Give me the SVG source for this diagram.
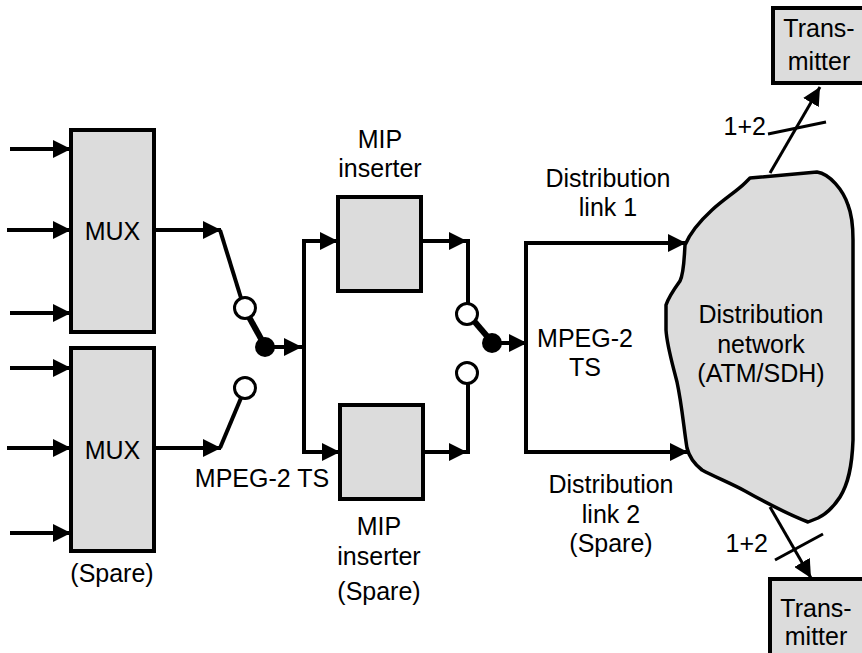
<svg xmlns="http://www.w3.org/2000/svg" width="862" height="653" viewBox="0 0 862 653">
<style>
text{font-family:"Liberation Sans",Arial,sans-serif;font-size:25px;fill:#000;text-anchor:middle}
.box{fill:#dcdcdc;stroke:#000;stroke-width:4}
.ln{fill:none;stroke:#000;stroke-width:4}
.thin{fill:none;stroke:#000;stroke-width:3}
.lever{fill:none;stroke:#000;stroke-width:6}
.open{fill:#fff;stroke:#000;stroke-width:3}
</style>
<defs>
<marker id="ah" markerUnits="userSpaceOnUse" markerWidth="19" markerHeight="18" refX="18" refY="9" orient="auto">
<path d="M0,0 L18,9 L0,18 Z" fill="#000"/>
</marker>
</defs>
<rect width="862" height="653" fill="#fff"/>

<g id="mux1">
<rect class="box" x="71" y="130" width="83" height="202"/>
<text x="112.5" y="240">MUX</text>
</g>
<g id="mux2">
<rect class="box" x="71" y="348" width="83" height="203"/>
<text x="112.5" y="459">MUX</text>
<text x="112" y="582">(Spare)</text>
</g>
<g id="mip1">
<rect class="box" x="338" y="197" width="83" height="94"/>
<text x="380" y="148">MIP</text>
<text x="380" y="177">inserter</text>
</g>
<g id="mip2">
<rect class="box" x="340" y="405" width="83" height="94"/>
<text x="379" y="535">MIP</text>
<text x="379" y="565">inserter</text>
<text x="379" y="600">(Spare)</text>
</g>
<g id="network">
<path d="M750,178 L817,172 C830,174 843,190 848,205 C852,215 853,225 853,240 L853,440 C852,468 848,484 840,497 C833,508 826,514 818,518 L808,522 C790,515 770,505 745,491 C730,483 715,477 702,470 C693,463 689,456 687,448 C684,430 682,405 677,382 C672,362 667,346 666,330 L666,305 C669,296 675,288 680,281 C684,273 684,260 685,245 C690,233 700,221 712,210 C724,199 737,191 745,183 Z" fill="#dcdcdc" stroke="#000" stroke-width="3.5" stroke-linejoin="round"/>
<text x="761" y="323">Distribution</text>
<text x="761" y="353">network</text>
<text x="761" y="382">(ATM/SDH)</text>
</g>
<g id="tx1">
<rect class="box" x="773" y="8" width="95" height="75"/>
<text x="819" y="37">Trans-</text>
<text x="819" y="70">mitter</text>
</g>
<g id="tx2">
<rect class="box" x="770" y="579" width="98" height="80"/>
<text x="816" y="617">Trans-</text>
<text x="816" y="645">mitter</text>
</g>
<g id="sw1">
<circle class="open" cx="245" cy="308" r="10.5"/>
<circle class="open" cx="245" cy="388" r="10.5"/>
<line class="lever" x1="249" y1="317" x2="265" y2="346"/>
<circle cx="265" cy="347" r="10" fill="#000"/>
</g>
<g id="sw2">
<circle class="open" cx="467" cy="314" r="10.5"/>
<circle class="open" cx="467" cy="373" r="10.5"/>
<line class="lever" x1="474" y1="321" x2="492" y2="342"/>
<circle cx="492" cy="343" r="10" fill="#000"/>
</g>

<g id="connectors">
<line class="ln" x1="10" y1="149" x2="71" y2="149" marker-end="url(#ah)"/>
<line class="ln" x1="7" y1="230" x2="71" y2="230" marker-end="url(#ah)"/>
<line class="ln" x1="10" y1="313" x2="71" y2="313" marker-end="url(#ah)"/>
<line class="ln" x1="10" y1="368" x2="71" y2="368" marker-end="url(#ah)"/>
<line class="ln" x1="7" y1="448" x2="71" y2="448" marker-end="url(#ah)"/>
<line class="ln" x1="10" y1="533" x2="71" y2="533" marker-end="url(#ah)"/>

<line class="ln" x1="154" y1="230" x2="221" y2="230" marker-end="url(#ah)"/>
<line class="ln" x1="220" y1="230" x2="241" y2="298"/>
<line class="ln" x1="154" y1="448" x2="221" y2="448" marker-end="url(#ah)"/>
<line class="ln" x1="220" y1="448" x2="241" y2="398"/>
<line class="ln" x1="265" y1="347" x2="302" y2="347" marker-end="url(#ah)"/>

<path class="ln" d="M304,347 V241 H338" marker-end="url(#ah)"/>
<path class="ln" d="M304,345 V452 H340" marker-end="url(#ah)"/>

<line class="ln" x1="421" y1="241" x2="467" y2="241" marker-end="url(#ah)"/>
<path class="ln" d="M465,241 H468 V303"/>
<line class="ln" x1="423" y1="452" x2="467" y2="452" marker-end="url(#ah)"/>
<path class="ln" d="M465,452 H468 V384"/>
<line class="ln" x1="492" y1="343" x2="527" y2="343" marker-end="url(#ah)"/>

<path class="ln" d="M685,243 H526 V452 H687"/>
<line class="ln" x1="660" y1="243" x2="686" y2="243" marker-end="url(#ah)"/>
<line class="ln" x1="660" y1="452" x2="688" y2="452" marker-end="url(#ah)"/>

<line class="thin" x1="770" y1="173" x2="820" y2="87" marker-end="url(#ah)"/>
<line class="thin" x1="768" y1="134" x2="826" y2="122"/>
<line class="thin" x1="770" y1="507" x2="811" y2="578" marker-end="url(#ah)"/>
<line class="thin" x1="775" y1="560" x2="823" y2="534"/>
</g>

<g id="labels">
<text x="608" y="187">Distribution</text>
<text x="608" y="216">link 1</text>
<text x="585" y="347">MPEG-2</text>
<text x="585" y="376">TS</text>
<text x="611" y="493">Distribution</text>
<text x="611" y="523">link 2</text>
<text x="611" y="552">(Spare)</text>
<text x="262" y="487">MPEG-2 TS</text>
<text x="766" y="135" style="text-anchor:end">1+2</text>
<text x="768" y="552" style="text-anchor:end">1+2</text>
</g>
</svg>
